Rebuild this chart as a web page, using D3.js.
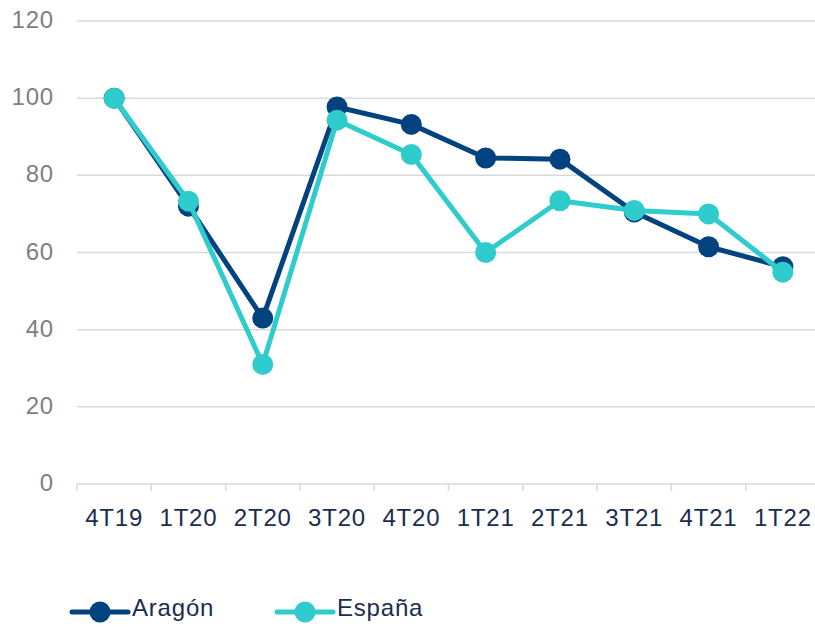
<!DOCTYPE html>
<meta charset="utf-8">
<style>
body { margin: 0; background: #fff; }
svg text { font-family: "Liberation Sans", Arial, sans-serif; letter-spacing: 0.8px; }
.grid line { stroke: #d9d9d9; stroke-width: 1.5; }
</style>
<svg width="815" height="627"></svg>
<script src="https://d3js.org/d3.v7.min.js"></script>
<script>

var categories = ["4T19", "1T20", "2T20", "3T20", "4T20", "1T21", "2T21", "3T21", "4T21", "1T22"];
var aragon = [100, 72, 43, 97.7, 93.2, 84.5, 84.2, 70.5, 61.5, 56.3];
var espana = [100, 73.3, 31, 94.3, 85.4, 60, 73.4, 70.9, 70, 54.9];
var yTicks = [0, 20, 40, 60, 80, 100, 120];

var series = [
  { name: "Aragón", values: aragon, color: "#02427f" },
  { name: "España", values: espana, color: "#2ecccc" }
];

var svg = d3.select("svg");

var x = d3.scaleBand().domain(categories).range([77, 820]);
var y = d3.scaleLinear().domain([0, 120]).range([484, 21]);

// grid //
svg.append("g").attr("class", "grid")
  .selectAll("line").data(yTicks).enter().append("line")
  .attr("x1", 77).attr("x2", 820)
  .attr("y1", function(d) { return y(d); })
  .attr("y2", function(d) { return y(d); });

// x ticks //
var tickPos = categories.map(function(c) { return x(c); }).concat([820]);
svg.append("g").attr("class", "grid")
  .selectAll("line").data(tickPos).enter().append("line")
  .attr("x1", function(d) { return d; }).attr("x2", function(d) { return d; })
  .attr("y1", 484).attr("y2", 491);

// y labels //
svg.append("g").selectAll("text").data(yTicks).enter().append("text")
  .attr("x", 54).attr("y", function(d) { return y(d) + 7; })
  .attr("text-anchor", "end")
  .attr("font-size", 24)
  .attr("fill", "#7f7f7f")
  .text(function(d) { return d; });

// x labels //
svg.append("g").selectAll("text").data(categories).enter().append("text")
  .attr("x", function(d) { return x(d) + x.bandwidth() / 2; })
  .attr("y", 526)
  .attr("text-anchor", "middle")
  .attr("font-size", 24)
  .attr("fill", "#1b2d4f")
  .text(function(d) { return d; });

var line = d3.line()
  .x(function(d, i) { return x(categories[i]) + x.bandwidth() / 2; })
  .y(function(d) { return y(d); });

series.forEach(function(s) {
  var g = svg.append("g");
  g.append("path")
    .attr("d", line(s.values))
    .attr("fill", "none")
    .attr("stroke", s.color)
    .attr("stroke-width", 5)
    .attr("stroke-linejoin", "round");
  g.selectAll("circle").data(s.values).enter().append("circle")
    .attr("cx", function(d, i) { return x(categories[i]) + x.bandwidth() / 2; })
    .attr("cy", function(d) { return y(d); })
    .attr("r", 10.5)
    .attr("fill", s.color);
});

// legend //
var legendX = [72, 277];
var legend = svg.append("g").selectAll("g").data(series).enter().append("g")
  .attr("transform", function(d, i) { return "translate(" + legendX[i] + ",612)"; });

legend.append("line")
  .attr("x1", 0).attr("x2", 56)
  .attr("stroke", function(d) { return d.color; })
  .attr("stroke-width", 5)
  .attr("stroke-linecap", "round");

legend.append("circle")
  .attr("cx", 28).attr("r", 10.5)
  .attr("fill", function(d) { return d.color; });

legend.append("text")
  .attr("x", 60).attr("y", 4)
  .attr("font-size", 24)
  .attr("fill", "#1b2d4f")
  .text(function(d) { return d.name; });

</script>
